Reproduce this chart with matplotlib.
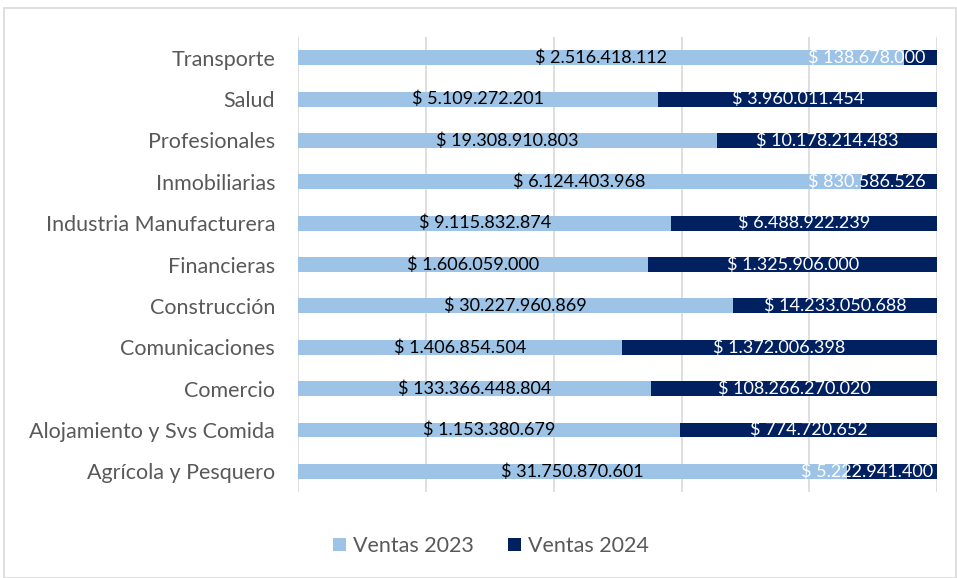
import matplotlib.pyplot as plt
import matplotlib.patches as patches
import numpy as np

sectores = ['Transporte', 'Salud', 'Profesionales', 'Inmobiliarias', 'Industria Manufacturera',
            'Financieras', 'Construcción', 'Comunicaciones', 'Comercio',
            'Alojamiento y Svs Comida', 'Agrícola y Pesquero']
ventas_2023 = [2516418112, 5109272201, 19308910803, 6124403968, 9115832874,
               1606059000, 30227960869, 1406854504, 133366448804,
               1153380679, 31750870601]
ventas_2024 = [138678000, 3960011454, 10178214483, 830586526, 6488922239,
               1325906000, 14233050688, 1372006398, 108266270020,
               774720652, 5222941400]


def fmt(v):
    return '$ ' + f'{v:,}'.replace(',', '.')


plt.rcParams['font.family'] = ['Lato', 'DejaVu Sans']

v23 = np.array(ventas_2023, dtype=float)
v24 = np.array(ventas_2024, dtype=float)
tot = v23 + v24
p23 = v23 / tot
p24 = v24 / tot

fig = plt.figure(figsize=(9.57, 5.78), dpi=100)
ax = fig.add_axes([0.3114, 0.1488, 0.668, 0.787])

y = np.arange(len(sectores))[::-1]
h = 0.36
ax.barh(y, p23, height=h, color='#9DC3E6', label='Ventas 2023', zorder=2)
ax.barh(y, p24, left=p23, height=h, color='#002060', label='Ventas 2024', zorder=2)

for i in range(len(sectores)):
    ax.text(p23[i] / 2, y[i], fmt(ventas_2023[i]), ha='center', va='center',
            fontsize=13, color='black', zorder=3)
    cx = min(p23[i] + p24[i] / 2, 0.89)
    ax.text(cx, y[i], fmt(ventas_2024[i]), ha='center', va='center',
            fontsize=13, color='white', zorder=3, clip_on=True)

ax.set_xlim(0, 1)
ax.set_ylim(-0.5, len(sectores) - 0.5)
ax.set_xticks(np.arange(0, 1.01, 0.2))
ax.set_xticklabels([])
ax.tick_params(axis='x', length=0)
ax.tick_params(axis='y', length=0, labelsize=15.5, labelcolor='#595959', pad=16.5)
ax.set_yticks(y)
ax.set_yticklabels(sectores)
ax.grid(axis='x', color='#D9D9D9', linewidth=1.2, zorder=0)
for s in ax.spines.values():
    s.set_visible(False)

fig.legend(loc='center', bbox_to_anchor=(0.513, 0.055), ncol=2, frameon=False,
           fontsize=15.5, labelcolor='#595959', handlelength=0.6, handleheight=0.6,
           handletextpad=0.3, columnspacing=1.6)

fig.patches.append(patches.Rectangle((0.004, 0.0), 0.995, 0.987, transform=fig.transFigure,
                                     fill=False, edgecolor='#D9D9D9', linewidth=1.2))

fig.savefig('out.png', dpi=100)
